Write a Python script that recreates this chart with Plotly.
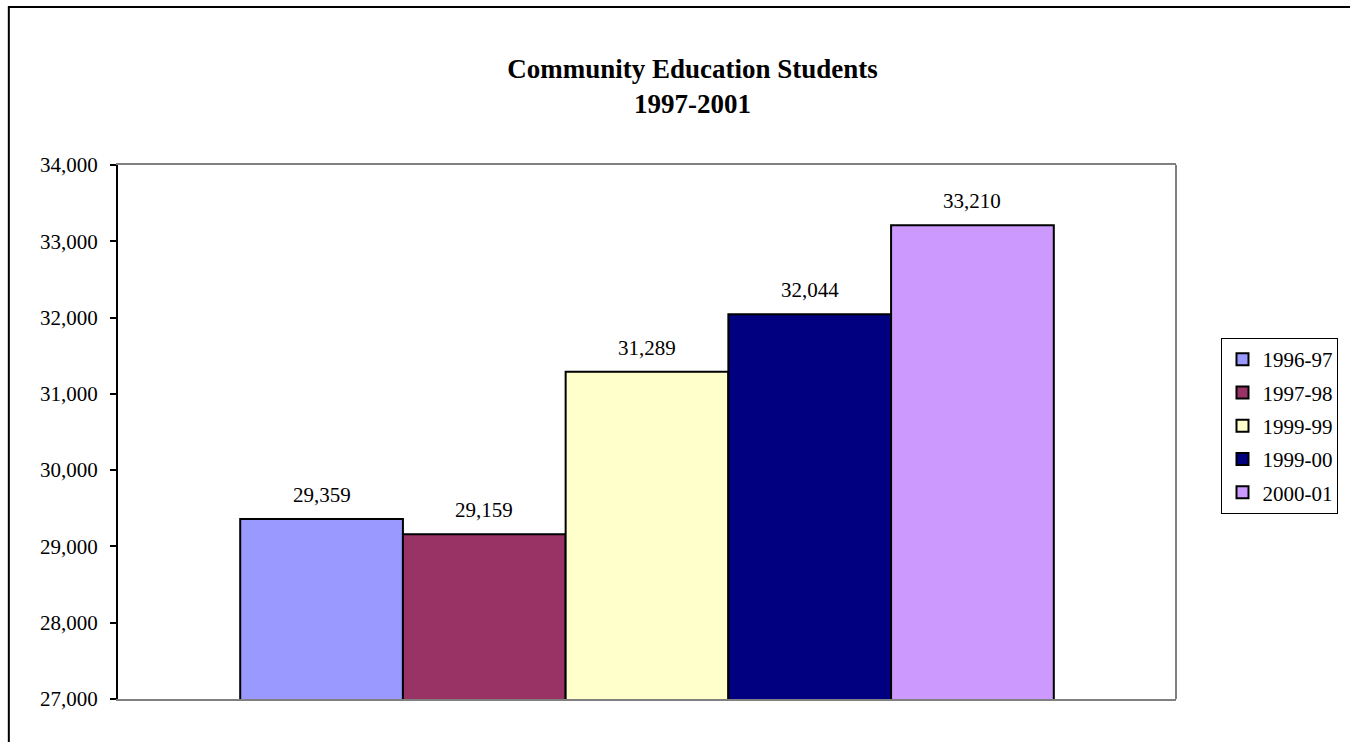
import plotly.graph_objects as go

# ---- data ----
category = ["Students"]
series_names = ["1996-97", "1997-98", "1999-99", "1999-00", "2000-01"]
series_values = [29359, 29159, 31289, 32044, 33210]
series_colors = ["#9999FF", "#993366", "#FFFFCC", "#000080", "#CC99FF"]
y_ticks = [27000, 28000, 29000, 30000, 31000, 32000, 33000, 34000]

FONT = "Times New Roman, Liberation Serif, serif"
BARGAP = 0.231

fig = go.Figure()
for i, (name, val, col) in enumerate(zip(series_names, series_values, series_colors)):
    fig.add_trace(go.Bar(
        x=category, y=[val], name=name, legendgroup=name,
        marker=dict(color=col, line=dict(color="black", width=2)),
        hoverinfo="y+name",
    ))

# value labels above each bar (positioned using the grouping geometry)
n = len(series_values)
group_w = 1 - BARGAP
bar_w = group_w / n
for i, val in enumerate(series_values):
    xc = -group_w / 2 + (i + 0.5) * bar_w
    fig.add_annotation(x=xc, y=val, xref="x", yref="y", text=f"{val:,}",
                       showarrow=False, yanchor="bottom", yshift=10,
                       font=dict(family=FONT, size=21, color="black"))

fig.update_layout(
    width=1350, height=742,
    margin=dict(l=118, r=166, t=165, b=43),
    paper_bgcolor="white", plot_bgcolor="white",
    barmode="group", bargap=BARGAP, bargroupgap=0,
    font=dict(family=FONT, size=21, color="black"),
    title=dict(text="<b>Community Education Students<br>1997-2001</b>",
               x=0.513, xanchor="center", xref="container",
               y=1 - 78 / 742, yanchor="middle", yref="container",
               font=dict(family=FONT, size=27, color="black")),
    showlegend=True,
    legend=dict(x=1.043, xanchor="left", y=0.676, yanchor="top",
                bordercolor="black", borderwidth=1, bgcolor="white",
                traceorder="grouped", tracegroupgap=3,
                font=dict(family=FONT, size=21, color="black")),
    xaxis=dict(showticklabels=False, ticks="", showgrid=False, zeroline=False,
               showline=True, linecolor="#808080", linewidth=2, mirror=True,
               layer="below traces", fixedrange=True),
    yaxis=dict(range=[y_ticks[0], y_ticks[-1]], tickvals=y_ticks, tickformat=",",
               showgrid=False, zeroline=False, showline=True, linecolor="black",
               linewidth=2, ticks="outside", ticklen=6, tickwidth=1.5,
               tickcolor="black", ticklabelstandoff=8,
               tickfont=dict(family=FONT, size=21, color="black")),
    shapes=[
        # right border of plot area
        dict(type="line", xref="paper", yref="paper", x0=1, x1=1, y0=0, y1=1,
             line=dict(color="#808080", width=2)),
        # outer chart border (extends past the right/bottom edges)
        dict(type="rect", xref="paper", yref="paper",
             x0=(8 - 118) / 1066, x1=1.3, y0=-0.2, y1=(699 - 7) / 534,
             line=dict(color="black", width=2), fillcolor="rgba(0,0,0,0)"),
    ],
)

fig.write_html("out.html")
